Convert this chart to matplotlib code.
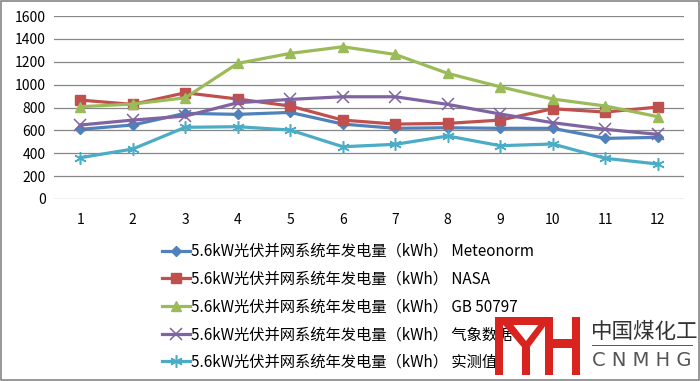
import numpy as np
import matplotlib.pyplot as plt
from matplotlib.patches import Rectangle, Polygon

plt.rcParams['font.family'] = ['Noto Sans CJK SC', 'DejaVu Sans']

months = np.arange(1, 13)
meteonorm = [609, 647, 749, 740, 757, 655, 618, 623, 618, 618, 530, 539]
nasa = [865, 827, 929, 874, 813, 690, 655, 661, 690, 789, 760, 804]
gb50797 = [807, 830, 885, 1186, 1273, 1331, 1264, 1098, 981, 874, 813, 720]
qixiang = [647, 690, 725, 842, 871, 894, 894, 827, 743, 667, 609, 565]
shice = [361, 437, 627, 632, 603, 457, 478, 551, 466, 481, 356, 306]

prefix = '5.6kW光伏并网系统年发电量（kWh） '
sources = ['Meteonorm', 'NASA', 'GB 50797', '气象数据', '实测值']
yticks = [0, 200, 400, 600, 800, 1000, 1200, 1400, 1600]

fig = plt.figure(figsize=(7.0, 3.81), dpi=100)
ax = fig.add_axes([54 / 700, 1 - 199 / 381, 630 / 700, 183 / 381])

styles = [
    dict(color='#4F81BD', marker='D', markersize=5.5),
    dict(color='#C0504D', marker='s', markersize=7),
    dict(color='#9BBB59', marker='^', markersize=7.5),
    dict(color='#8064A2', marker='x', markersize=8, markeredgewidth=1.1),
    dict(color='#4BACC6', marker=(6, 2, 0), markersize=9, markeredgewidth=1.1),
]
series = [meteonorm, nasa, gb50797, qixiang, shice]
for vals, src, st in zip(series, sources, styles):
    ax.plot(months, vals, linewidth=2.3, label=prefix + src, **st)

ax.set_xlim(0.5, 12.5)
ax.set_ylim(0, 1600)
ax.set_xticks(months)
ax.set_yticks(yticks)
ax.grid(axis='y', color='#878787', linewidth=0.9)
ax.set_axisbelow(True)
for s in ax.spines.values():
    s.set_visible(False)
ax.tick_params(length=0, labelsize=10, pad=6)
ax.tick_params(axis='x', pad=10)

leg = ax.legend(loc='upper left', bbox_to_anchor=(162 / 700, 1 - 243 / 381),
                bbox_transform=fig.transFigure, frameon=False, fontsize=11,
                handlelength=1.85, handletextpad=0.08, labelspacing=0.7,
                borderpad=0, borderaxespad=0)

# outer border
fig.patches.append(Rectangle((0.001, 0.002), 0.998, 0.996, transform=fig.transFigure,
                             fill=False, edgecolor='#868686', linewidth=1.2))

# watermark logo
red = '#D9231E'
def px(zx, zy):
    return ((470 + zx / 3) / 700, 1 - (305 + zy / 3) / 381)

def block(x0, y0, x1, y1):
    pts = [px(x0, y0), px(x1, y0), px(x1, y1), px(x0, y1)]
    fig.patches.append(Polygon(pts, closed=True, transform=fig.transFigure,
                               facecolor=red, edgecolor='none', zorder=10))

block(75, 35, 100, 210)
block(75, 35, 250, 60)
block(155, 118, 180, 210)
fig.patches.append(Polygon([px(100, 60), px(130, 60), px(168, 108), px(205, 60),
                            px(228, 60), px(180, 125), px(155, 125)], closed=True,
                           transform=fig.transFigure, facecolor=red,
                           edgecolor='none', zorder=10))
block(225, 35, 250, 210)
block(305, 35, 330, 210)
block(250, 103, 305, 128)
fig.patches.append(Rectangle(px(365, 124), (305 / 3) / 700, 1.5 / 381,
                             transform=fig.transFigure, facecolor=red,
                             edgecolor='none', zorder=10))
fig.text(px(362, 80)[0], px(362, 80)[1], '中国煤化工', fontsize=15.5,
         color='#333333', va='center', ha='left', zorder=11)
fig.text(px(365, 168)[0], px(365, 168)[1], 'C N M H G', fontsize=14,
         color='#555555', va='center', ha='left', zorder=11,
         family=['DejaVu Sans'])

fig.savefig('out.png', dpi=100)
